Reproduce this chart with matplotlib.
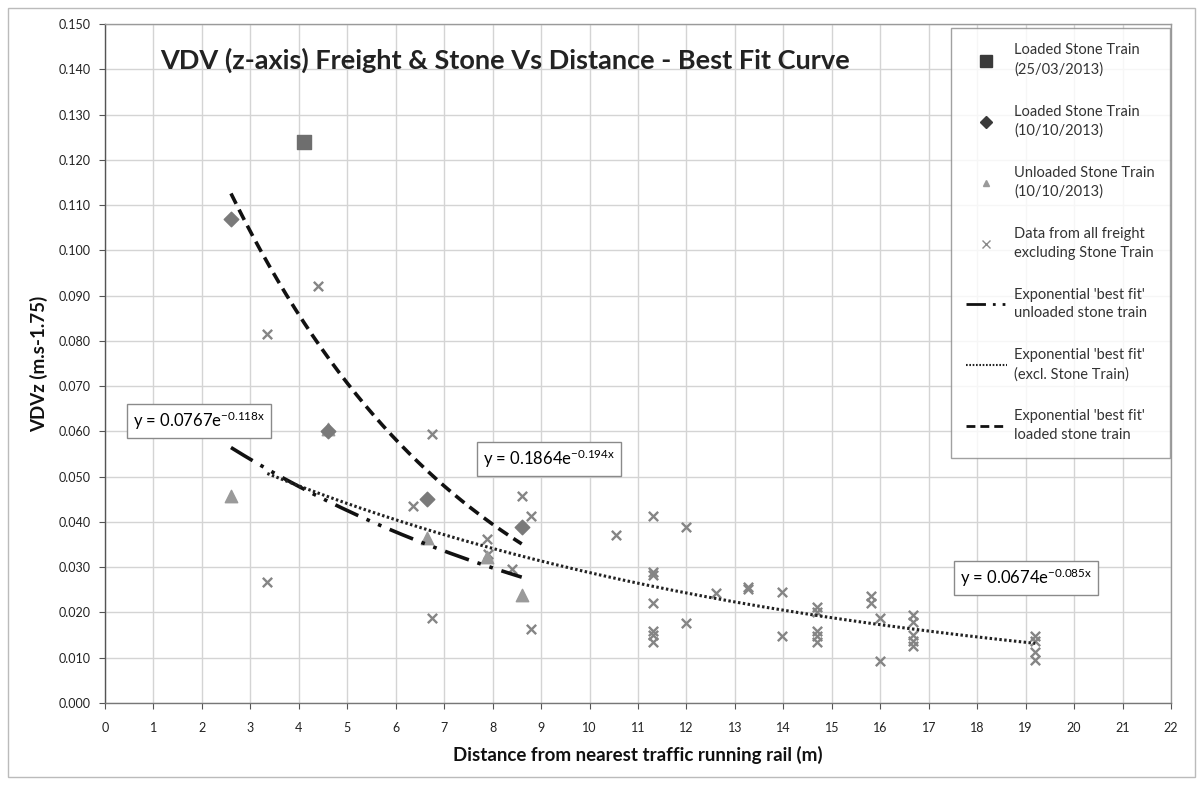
import numpy as np
import matplotlib
matplotlib.use("Agg")
import matplotlib.pyplot as plt
from matplotlib.lines import Line2D
from matplotlib.patches import Rectangle

plt.rcParams['font.family'] = ['Lato', 'DejaVu Sans']
plt.rcParams['mathtext.fontset'] = 'custom'
plt.rcParams['mathtext.rm'] = 'Lato'
plt.rcParams['mathtext.it'] = 'Lato:italic'
plt.rcParams['mathtext.bf'] = 'Lato:bold'

# ---- data ----
loaded_0313_x = [4.1]
loaded_0313_y = [0.124]

loaded_1010_x = [2.6, 4.6, 6.65, 8.6]
loaded_1010_y = [0.107, 0.060, 0.045, 0.0388]

unloaded_x = [2.6, 4.6, 6.65, 7.88, 8.6]
unloaded_y = [0.0457, 0.0605, 0.0365, 0.0322, 0.0238]

freight_x = [3.35, 4.4, 3.35, 6.75, 6.35, 6.75, 7.88, 7.9, 8.4, 8.6, 8.8, 8.8,
             10.55, 11.3, 12.0, 11.3, 11.3, 11.3, 11.3, 11.3, 11.3, 12.0, 12.6,
             13.27, 13.27, 13.97, 13.97, 14.7, 14.7, 14.7, 14.7, 14.7, 15.8, 15.8,
             16.0, 16.0, 16.68, 16.68, 16.68, 16.68, 16.68, 19.2, 19.2, 19.2, 19.2]
freight_y = [0.0815, 0.0921, 0.0267, 0.0594, 0.0435, 0.0188, 0.0362, 0.0330, 0.0296,
             0.0457, 0.0413, 0.0163, 0.0371, 0.0413, 0.0389, 0.0290, 0.0283, 0.0221,
             0.0160, 0.0150, 0.0135, 0.0177, 0.0243, 0.0257, 0.0252, 0.0246, 0.0148,
             0.0211, 0.0200, 0.0160, 0.0148, 0.0135, 0.0237, 0.0222, 0.0188, 0.0092,
             0.0195, 0.0178, 0.0150, 0.0138, 0.0125, 0.0148, 0.0138, 0.0112, 0.0095]

# exponential best-fit equations (as displayed): y = a * exp(b x), fitted range
fit_unloaded = [0.0767, -0.118, 2.6, 8.6]
fit_freight = [0.0674, -0.085, 3.35, 19.2]
fit_loaded = [0.1864, -0.194, 2.6, 8.6]

x_ticks = list(range(0, 23))
y_ticks = [0.000, 0.010, 0.020, 0.030, 0.040, 0.050, 0.060, 0.070, 0.080,
           0.090, 0.100, 0.110, 0.120, 0.130, 0.140, 0.150]

# ---- figure ----
fig = plt.figure(figsize=(12.01, 7.87), dpi=100)
ax = fig.add_axes([105/1201, 1-703/787, (1171-105)/1201, (703-24)/787])

ax.set_xlim(0, 22)
ax.set_ylim(0, 0.15)
ax.set_xticks(x_ticks)
ax.set_yticks(y_ticks)
ax.set_yticklabels([f"{v:.3f}" for v in y_ticks])
ax.grid(True, color='#d4d4d4', lw=1.0)
ax.set_axisbelow(True)
for s in ax.spines.values():
    s.set_color('#9a9a9a')
    s.set_linewidth(1.0)
ax.spines['left'].set_color('#555555')
ax.spines['bottom'].set_color('#777777')
ax.tick_params(axis='both', labelsize=9, colors='#555555', labelcolor='#222222',
               length=4, width=0.8)
ax.tick_params(axis='x', pad=10)
ax.tick_params(axis='y', pad=6)

def curve(p):
    xs = np.linspace(p[2], p[3], 200)
    return xs, p[0]*np.exp(p[1]*xs)

# data series
ax.scatter(freight_x, freight_y, marker='x', s=45, color='#858585', lw=1.7, zorder=3)
ax.scatter(unloaded_x, unloaded_y, marker='^', s=80, color='#9a9a9a', zorder=4)
ax.scatter(loaded_1010_x, loaded_1010_y, marker='D', s=55, color='#7a7a7a', zorder=5)
ax.scatter(loaded_0313_x, loaded_0313_y, marker='s', s=110, color='#6e6e6e', zorder=5)

dashdot = (0, (7, 2.5, 1, 2.5, 1, 2.5))
xs, ys = curve(fit_unloaded)
ax.plot(xs, ys, color='#111111', lw=2.6, linestyle=dashdot, zorder=6)
xs, ys = curve(fit_freight)
ax.plot(xs, ys, color='#222222', lw=2.2, linestyle=(0, (0.8, 0.8)), zorder=6)
xs, ys = curve(fit_loaded)
ax.plot(xs, ys, color='#111111', lw=2.6, linestyle=(0, (3.2, 1.8)), zorder=6)

# equations
box = dict(boxstyle='square,pad=0.35', fc='white', ec='#8a8a8a', lw=1)
ax.text(0.58, 0.0623, r'y = 0.0767e$^{\mathrm{-0.118x}}$', fontsize=12,
        ha='left', va='center', bbox=box, zorder=7)
ax.text(7.8, 0.0539, r'y = 0.1864e$^{\mathrm{-0.194x}}$', fontsize=12,
        ha='left', va='center', bbox=box, zorder=7)
ax.text(17.65, 0.0277, r'y = 0.0674e$^{\mathrm{-0.085x}}$', fontsize=12,
        ha='left', va='center', bbox=box, zorder=7)

# title inside plot
ax.text(0.052, 0.947, 'VDV (z-axis) Freight & Stone Vs Distance - Best Fit Curve',
        transform=ax.transAxes, fontsize=19.5, fontweight='bold', color='#222222',
        ha='left', va='center', zorder=7)

ax.set_xlabel('Distance from nearest traffic running rail (m)', fontsize=13.5,
              fontweight='bold', color='#111111', labelpad=8)
ax.set_ylabel('VDVz (m.s-1.75)', fontsize=13.5, fontweight='bold', color='#111111',
              labelpad=8)

handles = [
    Line2D([], [], ls='none', marker='s', ms=8, color='#3a3a3a'),
    Line2D([], [], ls='none', marker='D', ms=6, color='#3a3a3a'),
    Line2D([], [], ls='none', marker='^', ms=5, color='#9a9a9a'),
    Line2D([], [], ls='none', marker='x', ms=6, color='#8a8a8a', mew=1),
    Line2D([], [], color='#111111', lw=2, linestyle=dashdot),
    Line2D([], [], color='#222222', lw=1.5, linestyle=(0, (0.8, 0.8))),
    Line2D([], [], color='#111111', lw=2, linestyle=(0, (3.2, 1.8))),
]
labels = [
    'Loaded Stone Train\n(25/03/2013)',
    'Loaded Stone Train\n(10/10/2013)',
    'Unloaded Stone Train\n(10/10/2013)',
    'Data from all freight\nexcluding Stone Train',
    "Exponential 'best fit'\nunloaded stone train",
    "Exponential 'best fit'\n(excl. Stone Train)",
    "Exponential 'best fit'\nloaded stone train",
]
leg = ax.legend(handles, labels, loc='upper right', bbox_to_anchor=(0.999, 0.994),
                fontsize=10.5, labelspacing=1.9, handlelength=2.8, handletextpad=0.5,
                borderpad=1.05, frameon=True, fancybox=False, borderaxespad=0)
leg.get_frame().set_edgecolor('#8a8a8a')
leg.get_frame().set_linewidth(1)
for t in leg.get_texts():
    t.set_color('#333333')
    t.set_linespacing(1.45)

# outer chart border
fig.patches.append(Rectangle((8/1201, 10/787), (1195-8)/1201, (779-10)/787,
                             transform=fig.transFigure, fill=False,
                             ec='#bbbbbb', lw=1))

fig.savefig('out.png', dpi=100)
